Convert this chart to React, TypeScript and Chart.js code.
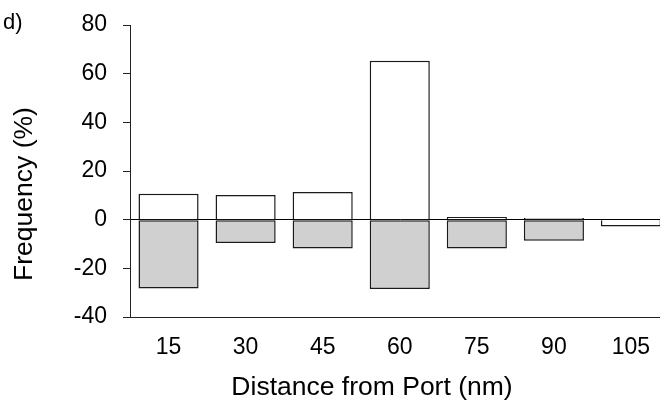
import React, { useEffect, useRef } from "react";
import { Chart, registerables } from "chart.js";

Chart.register(...registerables);

const categories = ["15", "30", "45", "60", "75", "90", "105"];
const positiveSeries = [10.7, 10.1, 11.4, 65.3, 1.1, 0.7, -2.8];
const negativeSeries = [-28.3, -9.6, -11.8, -28.5, -11.8, -8.7, null];
const yMin = -40;
const yMax = 80;
const yStep = 20;
const panelLabel = "d)";
const xTitle = "Distance from Port (nm)";
const yTitle = "Frequency (%)";

const FONT = "'Liberation Sans', Arial, Helvetica, sans-serif";

export default function App() {
  const ref = useRef<HTMLCanvasElement | null>(null);

  useEffect(() => {
    document.body.style.margin = "0";
    const canvas = ref.current;
    if (!canvas) return;

    const textPlugin = {
      id: "textPlugin",
      afterDraw(chart: any) {
        const ctx = chart.ctx;
        ctx.save();
        ctx.fillStyle = "#000";
        ctx.font = `22px ${FONT}`;
        ctx.textBaseline = "alphabetic";
        ctx.textAlign = "left";
        ctx.fillText(panelLabel, 3, 29);

        ctx.font = `26.5px ${FONT}`;
        ctx.textAlign = "center";
        ctx.textBaseline = "alphabetic";
        ctx.fillText(xTitle, 372, 395);

        ctx.translate(32, 194);
        ctx.rotate(-Math.PI / 2);
        ctx.fillText(yTitle, 0, 0);
        ctx.restore();
      },
    };

    const chart = new Chart(canvas, {
      type: "bar",
      data: {
        labels: categories,
        datasets: [
          {
            data: positiveSeries,
            backgroundColor: "#ffffff",
            borderColor: "#1a1a1a",
            borderWidth: 1.5,
            borderSkipped: "start",
            barPercentage: 0.78,
            categoryPercentage: 1,
          },
          {
            data: negativeSeries as any,
            backgroundColor: "#d1d0d1",
            borderColor: "#1a1a1a",
            borderWidth: 1.5,
            borderSkipped: false,
            barPercentage: 0.78,
            categoryPercentage: 1,
          },
        ],
      },
      options: {
        responsive: false,
        animation: false,
        layout: { padding: { left: 0, right: 10.5, top: 25, bottom: 0 } },
        plugins: {
          legend: { display: false },
          tooltip: { enabled: false },
        },
        scales: {
          x: {
            stacked: true,
            offset: true,
            grid: { display: false },
            border: { display: true, color: "#222", width: 1 },
            ticks: {
              color: "#000",
              font: { family: FONT, size: 23 },
              padding: 9,
              maxRotation: 0,
            },
            afterFit(scale: any) {
              scale.height = 88;
            },
          },
          y: {
            stacked: false,
            min: yMin,
            max: yMax,
            ticks: {
              stepSize: yStep,
              color: "#000",
              font: { family: FONT, size: 23, lineHeight: 0.7 },
              padding: 16,
            },
            grid: {
              drawOnChartArea: true,
              color: (ctx: any) => (ctx.tick && ctx.tick.value === 0 ? "#000" : "rgba(0,0,0,0)"),
              tickColor: "#222",
              tickLength: 7,
              lineWidth: 1,
            },
            border: { display: true, color: "#222", width: 1 },
            afterFit(scale: any) {
              scale.width = 130;
            },
          },
        },
      },
      plugins: [textPlugin],
    });

    return () => chart.destroy();
  }, []);

  return (
    <div style={{ width: 660, height: 405, overflow: "hidden", position: "relative" }}>
      <canvas ref={ref} width={680} height={405} style={{ width: 680, height: 405, display: "block" }} />
    </div>
  );
}
